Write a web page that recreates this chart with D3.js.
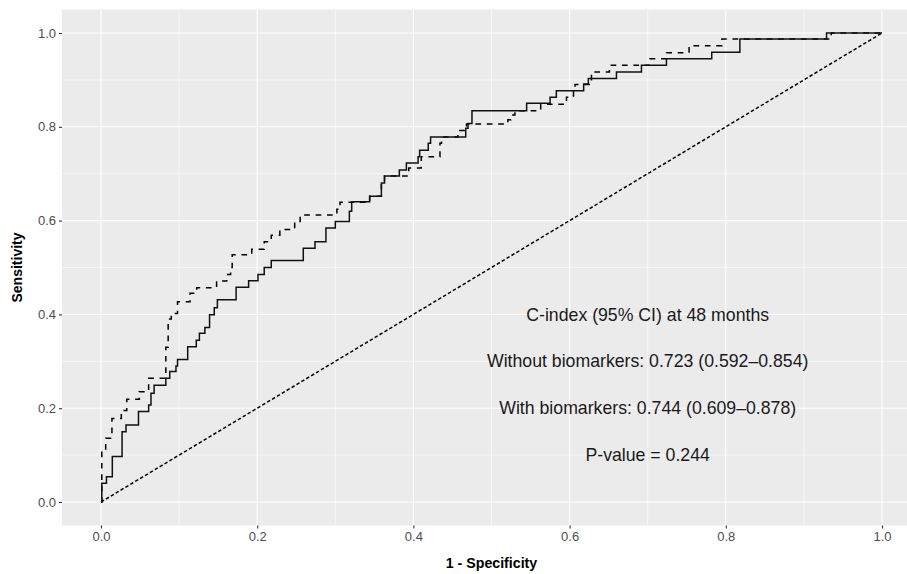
<!DOCTYPE html>
<html>
<head>
<meta charset="utf-8">
<script src="https://cdn.jsdelivr.net/npm/d3@7"></script>
<style>
  body { margin: 0; background: #fff; }
  svg { display: block; font-family: "Liberation Sans", Arial, sans-serif; }
</style>
</head>
<body>
<svg width="907" height="574"></svg>
<script>
// ROC step points: [1 - specificity, sensitivity] where the curve rises
const withoutBiomarkers = [
  [0, 0], [0.001, 0.04], [0.007, 0.054], [0.0145, 0.097], [0.027, 0.15], [0.032, 0.164],
  [0.048, 0.193], [0.061, 0.207], [0.064, 0.232], [0.068, 0.249], [0.083, 0.264],
  [0.088, 0.278], [0.096, 0.29], [0.098, 0.304], [0.111, 0.331], [0.122, 0.345],
  [0.126, 0.36], [0.133, 0.372], [0.139, 0.399], [0.145, 0.414], [0.149, 0.431],
  [0.173, 0.458], [0.189, 0.472], [0.201, 0.485], [0.209, 0.5], [0.218, 0.515],
  [0.259, 0.541], [0.274, 0.555], [0.288, 0.584], [0.3, 0.598], [0.318, 0.62],
  [0.321, 0.64], [0.344, 0.652], [0.359, 0.68], [0.363, 0.695], [0.382, 0.708],
  [0.391, 0.723], [0.406, 0.736], [0.408, 0.75], [0.419, 0.765], [0.422, 0.778],
  [0.467, 0.797], [0.47, 0.807], [0.475, 0.834], [0.545, 0.85], [0.575, 0.863],
  [0.583, 0.877], [0.618, 0.891], [0.624, 0.903], [0.66, 0.917], [0.692, 0.931],
  [0.724, 0.945], [0.782, 0.959], [0.818, 0.987], [0.929, 1.0], [1.0, 1.0]
];

const withBiomarkers = [
  [0, 0], [0.001, 0.111], [0.006, 0.136], [0.014, 0.178], [0.026, 0.195], [0.033, 0.219],
  [0.049, 0.235], [0.061, 0.264], [0.083, 0.33], [0.086, 0.39], [0.09, 0.402],
  [0.098, 0.427], [0.114, 0.445], [0.1225, 0.457], [0.148, 0.471], [0.161, 0.485],
  [0.166, 0.5], [0.168, 0.527], [0.193, 0.539], [0.209, 0.555], [0.218, 0.569],
  [0.229, 0.581], [0.248, 0.598], [0.255, 0.612], [0.302, 0.624], [0.306, 0.639],
  [0.344, 0.652], [0.359, 0.68], [0.363, 0.695], [0.394, 0.712], [0.41, 0.736],
  [0.434, 0.765], [0.436, 0.778], [0.457, 0.792], [0.468, 0.806], [0.521, 0.815],
  [0.525, 0.825], [0.53, 0.834], [0.563, 0.848], [0.596, 0.863], [0.605, 0.877],
  [0.607, 0.89], [0.628, 0.917], [0.651, 0.931], [0.703, 0.945], [0.724, 0.958],
  [0.753, 0.973], [0.795, 0.987], [0.935, 1.0], [1.0, 1.0]
];

const reference = [[0, 0], [1, 1]];

const tickValues = [0, 0.2, 0.4, 0.6, 0.8, 1.0];
const minorValues = [0.1, 0.3, 0.5, 0.7, 0.9];

const annotations = [
  { x: 0.7, y: 0.4, label: 'C-index (95% CI) at 48 months' },
  { x: 0.7, y: 0.3, label: 'Without biomarkers: 0.723 (0.592\u20130.854)' },
  { x: 0.7, y: 0.2, label: 'With biomarkers: 0.744 (0.609\u20130.878)' },
  { x: 0.7, y: 0.1, label: 'P-value = 0.244' }
];

const createChart = () => {
  const svg = d3.select('svg');
  // panel runs past the right edge of the picture (ggplot 5% expansion)
  const panel = { left: 62, right: 921, top: 9.5, bottom: 525.5 };

  const x = d3.scaleLinear().domain([0, 1]).range([101, 882]);
  const y = d3.scaleLinear().domain([0, 1]).range([502, 33]);

  svg.append('rect')
    .attr('x', panel.left)
    .attr('y', panel.top)
    .attr('width', panel.right - panel.left)
    .attr('height', panel.bottom - panel.top)
    .attr('fill', '#EBEBEB');

  const grid = svg.append('g').attr('stroke', '#fff');

  grid.selectAll('.vminor').data(minorValues).join('line')
    .attr('x1', d => x(d)).attr('x2', d => x(d))
    .attr('y1', panel.top).attr('y2', panel.bottom)
    .attr('stroke-width', 0.55);
  grid.selectAll('.hminor').data(minorValues).join('line')
    .attr('y1', d => y(d)).attr('y2', d => y(d))
    .attr('x1', panel.left).attr('x2', panel.right)
    .attr('stroke-width', 0.55);
  grid.selectAll('.vmajor').data(tickValues).join('line')
    .attr('x1', d => x(d)).attr('x2', d => x(d))
    .attr('y1', panel.top).attr('y2', panel.bottom)
    .attr('stroke-width', 1.1);
  grid.selectAll('.hmajor').data(tickValues).join('line')
    .attr('y1', d => y(d)).attr('y2', d => y(d))
    .attr('x1', panel.left).attr('x2', panel.right)
    .attr('stroke-width', 1.1);

  // axes
  const xAxis = svg.append('g')
    .attr('transform', `translate(0,${panel.bottom})`)
    .call(d3.axisBottom(x).tickValues(tickValues).tickFormat(d3.format('.1f')).tickSize(3).tickPadding(3));
  const yAxis = svg.append('g')
    .attr('transform', `translate(${panel.left},0)`)
    .call(d3.axisLeft(y).tickValues(tickValues).tickFormat(d3.format('.1f')).tickSize(3).tickPadding(3));

  [xAxis, yAxis].forEach(a => {
    a.select('.domain').remove();
    a.selectAll('.tick line').attr('stroke', '#333').attr('stroke-width', 1.1);
    a.selectAll('.tick text')
      .attr('fill', '#4D4D4D')
      .style('font-size', '13px')
      .style('font-family', '"Liberation Sans", Arial, sans-serif');
  });

  const line = d3.line()
    .x(d => x(d[0]))
    .y(d => y(d[1]))
    .curve(d3.curveStepAfter);

  svg.append('path')
    .datum(reference)
    .attr('d', d3.line().x(d => x(d[0])).y(d => y(d[1])))
    .attr('fill', 'none')
    .attr('stroke', '#000')
    .attr('stroke-width', 1.5)
    .attr('stroke-dasharray', '3.5,2.2');

  svg.append('path')
    .datum(withBiomarkers)
    .attr('d', line)
    .attr('fill', 'none')
    .attr('stroke', '#000')
    .attr('stroke-width', 1.5)
    .attr('stroke-dasharray', '5.7,5.7');

  svg.append('path')
    .datum(withoutBiomarkers)
    .attr('d', line)
    .attr('fill', 'none')
    .attr('stroke', '#111')
    .attr('stroke-width', 1.5);

  svg.append('g')
    .selectAll('text')
    .data(annotations)
    .join('text')
    .attr('x', d => x(d.x))
    .attr('y', d => y(d.y))
    .attr('dy', '0.35em')
    .attr('text-anchor', 'middle')
    .attr('fill', '#1a1a1a')
    .style('font-size', '17.7px')
    .text(d => d.label);

  svg.append('text')
    .attr('x', (panel.left + panel.right) / 2)
    .attr('y', 568)
    .attr('text-anchor', 'middle')
    .attr('font-weight', 'bold')
    .style('font-size', '14.2px')
    .text('1 - Specificity');

  svg.append('text')
    .attr('transform', `translate(22,${(panel.top + panel.bottom) / 2}) rotate(-90)`)
    .attr('text-anchor', 'middle')
    .attr('font-weight', 'bold')
    .style('font-size', '14px')
    .text('Sensitivity');
};

window.addEventListener('DOMContentLoaded', () => {
  createChart();
});
</script>
</body>
</html>
